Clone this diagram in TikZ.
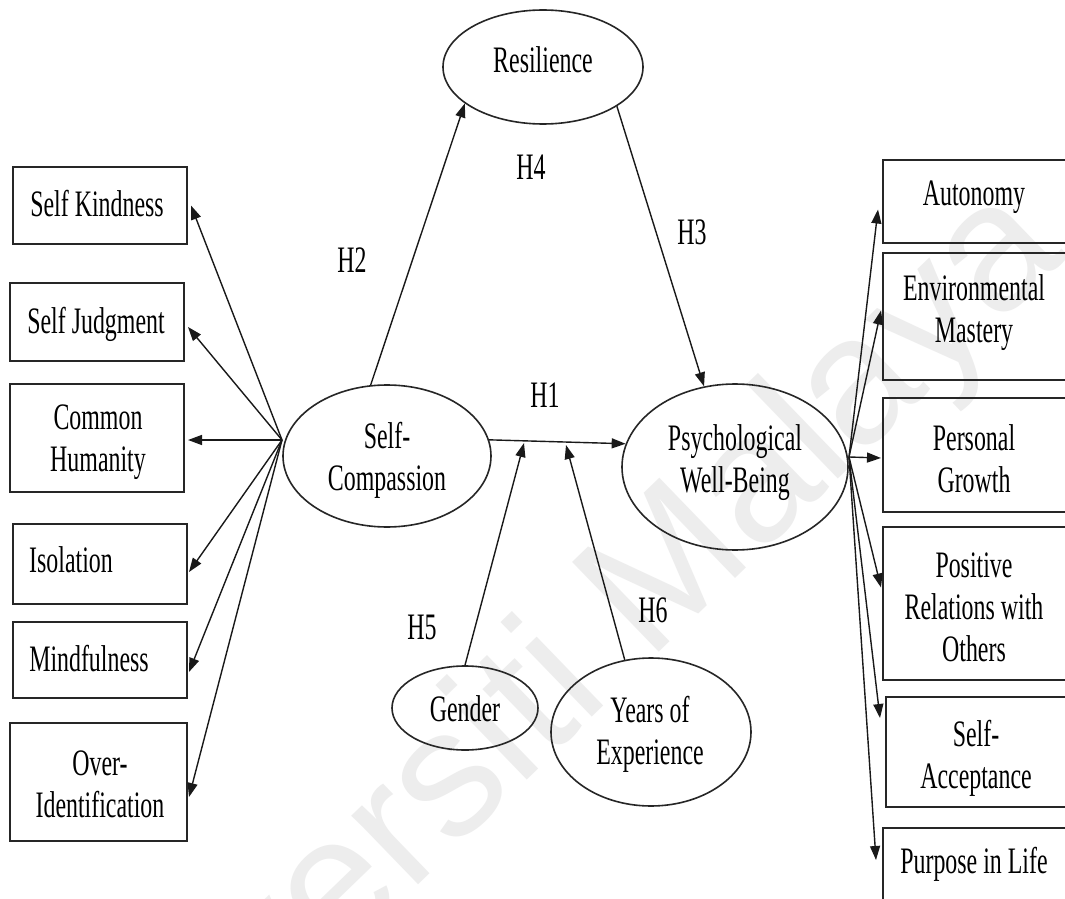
\documentclass[tikz,border=0pt]{standalone}
\usepackage{fontspec}
\setmainfont{Liberation Serif}[FakeStretch=0.64]
\newfontfamily\markfont{Liberation Sans}
\usetikzlibrary{arrows.meta,shapes.geometric}
\tikzset{
  every node/.style={font=\fontsize{28}{31.5}\selectfont, inner sep=0pt},
  size/.style 2 args={minimum width=#1*0.75pt, minimum height=#2*0.75pt},
  box/.style={draw=black!85, line width=1.5pt, rectangle},
  oval/.style={draw=black!85, line width=1.2pt, ellipse},
  lbl/.style={align=center},
  link/.style={draw=black!90, line width=1.05pt, -{Triangle[length=10.5pt,width=7.5pt]}},
  wm/.style={text=black!7, font=\markfont\fontsize{136}{136}\selectfont}
}
\begin{document}
\begin{tikzpicture}[x=0.75pt,y=-0.75pt]
\clip (0,0) rectangle (1065,899);
\fill[white] (0,0) rectangle (1065,899);

% faint background watermark
\node[wm, rotate=44] (wmk) at (540,702) {Universiti Malaya};

% left indicator boxes
\node[box, size={174}{77}]  (sk)   at (100,205.5) {};
\node[box, size={174}{78}]  (sj)   at (97,322) {};
\node[box, size={174}{108}] (ch)   at (97,438) {};
\node[box, size={174}{80}]  (iso)  at (100,564) {};
\node[box, size={174}{76}]  (mind) at (100,660) {};
\node[box, size={177}{118}] (over) at (98.5,782) {};

\node[lbl] (skt)   at (97,204)  {Self Kindness};
\node[lbl] (sjt)   at (96,324)  {Self Judgment};
\node[lbl] (cht)   at (98,442)  {Common\\Humanity};
\node[lbl] (isot)  at (71,560)  {Isolation};
\node[lbl] (mindt) at (89,659)  {Mindfulness};
\node[lbl] (overt) at (100,784) {Over-\\Identification};

% right indicator boxes (run past the right edge)
\node[box, size={192}{83}]  (auto) at (979,201.5) {};
\node[box, size={192}{127}] (env)  at (979,316.5) {};
\node[box, size={192}{114}] (pg)   at (979,455) {};
\node[box, size={192}{153}] (pr)   at (979,603.5) {};
\node[box, size={189}{110}] (sa)   at (980.5,752) {};
\node[box, size={192}{82}]  (pil)  at (979,869) {};

\node[lbl] (autot) at (974,197) {Autonomy};
\node[lbl] (envt)  at (974,313) {Environmental\\Mastery};
\node[lbl] (pgt)   at (974,459) {Personal\\Growth};
\node[lbl] (prt)   at (974,607) {Positive\\Relations with\\Others};
\node[lbl] (sat)   at (976,758) {Self-\\Acceptance};
\node[lbl] (pilt)  at (974,864) {Purpose in Life};

% constructs
\node[oval, size={200}{114}] (res)   at (543,67) {};
\node[oval, size={208}{142}] (sc)    at (387,456) {};
\node[oval, size={226}{166}] (pwb)   at (735,467) {};
\node[oval, size={146}{84}]  (gen)   at (465,708) {};
\node[oval, size={200}{148}] (years) at (651,732) {};

\node[lbl] (rest)   at (543,60)  {Resilience};
\node[lbl] (sct)    at (387,460) {Self-\\Compassion};
\node[lbl] (pwbt)   at (735,463) {Psychological\\Well-Being};
\node[lbl] (gent)   at (465,709) {Gender};
\node[lbl] (yearst) at (650,734) {Years of\\Experience};

% hypothesis labels
\node (h1) at (545,395) {H1};
\node (h2) at (352,260) {H2};
\node (h3) at (692,232) {H3};
\node (h4) at (531,167) {H4};
\node (h5) at (422,627) {H5};
\node (h6) at (653,610) {H6};

% fan points on the two latent constructs
\coordinate (scL)  at (282,440);
\coordinate (pwbR) at (849,457);
% points where the moderators meet the H1 path
\coordinate (genhit)   at (524,443);
\coordinate (yearshit) at (566,445);

% self-compassion indicators
\draw[link] (scL) -- ([shift={(3,0)}]sk.east);
\draw[link] (scL) -- ([shift={(3,5)}]sj.east);
\draw[link] (scL) -- ([shift={(3,2)}]ch.east);
\draw[link] (scL) -- ([shift={(1,8)}]iso.east);
\draw[link] (scL) -- ([shift={(1,12)}]mind.east);
\draw[link] (scL) -- ([shift={(1,15)}]over.east);

% well-being indicators
\draw[link] (pwbR) -- ([shift={(-4,8)}]auto.west);
\draw[link] (pwbR) -- ([shift={(-1,-6)}]env.west);
\draw[link] (pwbR) -- ([shift={(-1,3)}]pg.west);
\draw[link] (pwbR) -- ([shift={(-1,-16)}]pr.west);
\draw[link] (pwbR) -- ([shift={(-5,-34)}]sa.west);
\draw[link] (pwbR) -- ([shift={(-6,-9)}]pil.west);

% structural paths
\draw[link] (sc.103) -- (res.205);
\draw[link] (res.332) -- (pwb.111);
\draw[link] (sc.9) -- (pwb.168);
\draw[link] (gen.north) -- (genhit);
\draw[link] (years.110) -- (yearshit);
\end{tikzpicture}
\end{document}
